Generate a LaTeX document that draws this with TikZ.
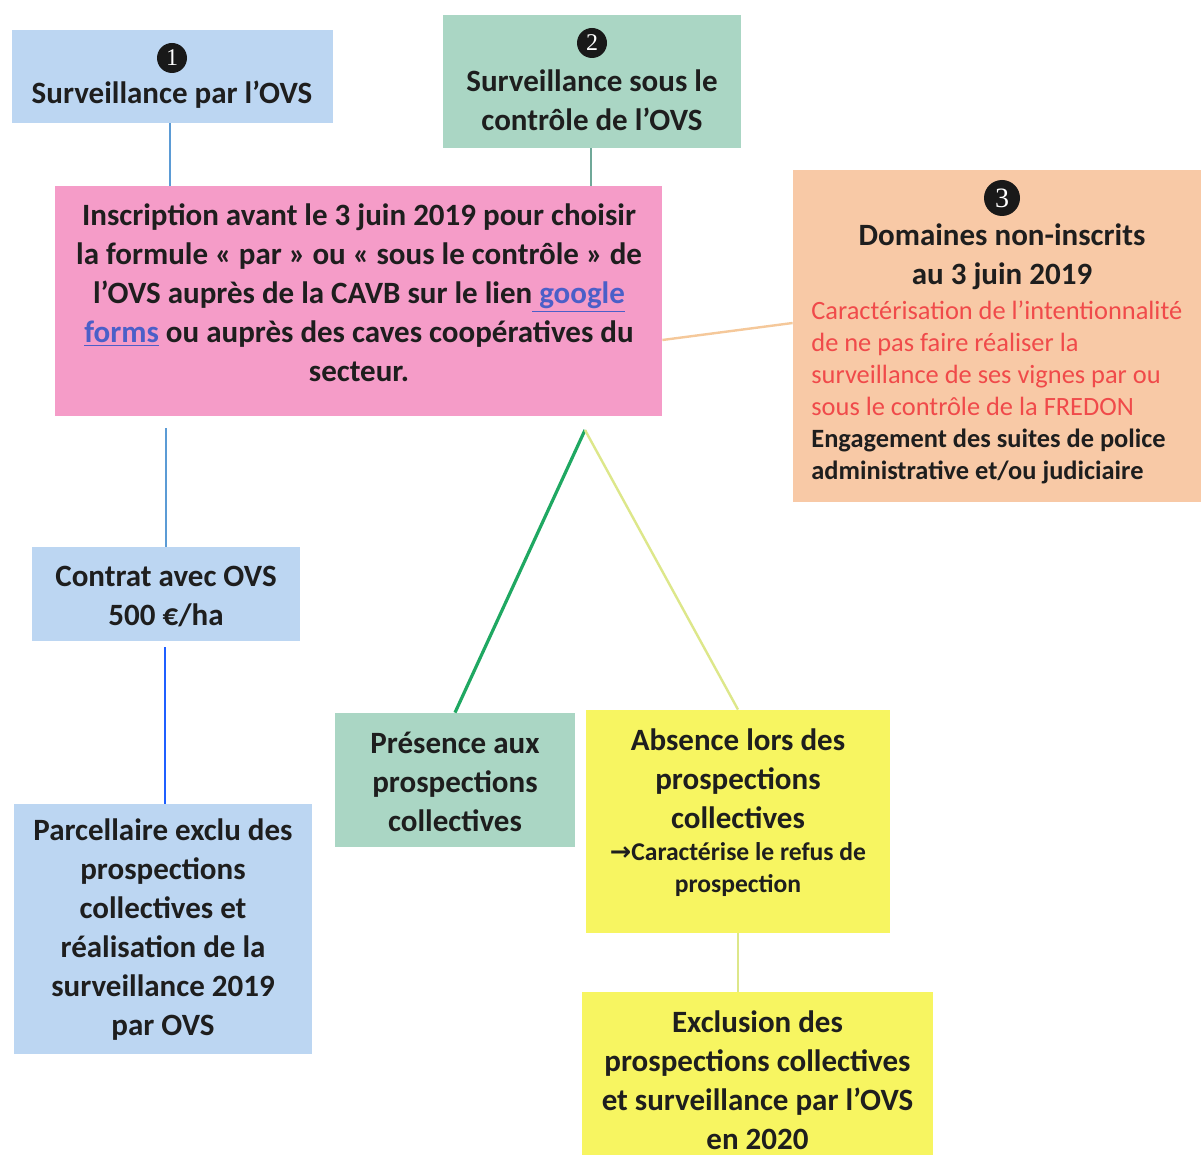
\documentclass[tikz,border=0pt]{standalone}
\usepackage{fontspec}
\setmainfont{Carlito}
\newfontfamily\digitfont{Liberation Serif}
\newfontfamily\arrowfont{DejaVu Sans}
\usetikzlibrary{fit}
\definecolor{cblue}{HTML}{BCD6F2}
\definecolor{cgreen}{HTML}{AAD6C4}
\definecolor{cpink}{HTML}{F59CC8}
\definecolor{corange}{HTML}{F8C9A6}
\definecolor{cyellow}{HTML}{F7F561}
\definecolor{cred}{HTML}{F04A4A}
\definecolor{lblue}{HTML}{5B9BD5}
\definecolor{lteal}{HTML}{6FA898}
\definecolor{lbright}{HTML}{1F5FFF}
\definecolor{lgreen}{HTML}{1FA862}
\definecolor{lyel}{HTML}{DDE78A}
\definecolor{lorange}{HTML}{F5C89A}
\definecolor{clink}{HTML}{4B5FC8}
\definecolor{ctext}{HTML}{1E1E1E}
\tikzset{
  box/.style={rectangle, inner sep=0pt, draw=none},
  bigtxt/.style={font=\fontsize{15.5}{19.5}\selectfont\bfseries, align=center, inner sep=0pt, text=ctext},
  smalltxt/.style={font=\fontsize{13.2}{16}\selectfont, inner sep=0pt, text=ctext},
  numcirc/.style={circle, fill=black!90, text=white, inner sep=0pt, font=\digitfont\fontsize{12}{12}\selectfont},
  conn/.style={line width=1.2pt}
}
\begin{document}
\begin{tikzpicture}[x=0.5pt, y=-0.5pt]
\useasboundingbox (0,0) rectangle (1201,1155);
\fill[white] (0,0) rectangle (1201,1155);

% boxes
\node[box, fill=cblue, fit={(12,30) (333,123)}] (b1) {};
\node[box, fill=cgreen, fit={(443,15) (741,148)}] (b2) {};
\node[box, fill=cpink, fit={(55,186) (662,416)}] (pink) {};
\node[box, fill=corange, fit={(793,170) (1201,502)}] (orange) {};
\node[box, fill=cblue, fit={(32,547) (300,641)}] (contrat) {};
\node[box, fill=cblue, fit={(14,804) (312,1054)}] (parc) {};
\node[box, fill=cgreen, fit={(335,713) (575,847)}] (pres) {};
\node[box, fill=cyellow, fit={(586,710) (890,933)}] (abs) {};
\node[box, fill=cyellow, fit={(582,992) (933,1155)}] (excl) {};

% number circles
\node[numcirc, minimum size=15pt] (n1) at (172,58) {1};
\node[numcirc, minimum size=15pt] (n2) at (592,43) {2};
\node[numcirc, minimum size=18pt, font=\digitfont\fontsize{14}{14}\selectfont] (n3) at (1002,198) {3};

% texts
\node[bigtxt] (t1) at (172,95) {Surveillance par l’OVS};
\node[bigtxt] (t2) at (592,100.5) {Surveillance sous le\\contrôle de l’OVS};
\node[bigtxt] (tpink) at (359,293) {Inscription avant le 3 juin 2019 pour choisir\\
la formule « par » ou « sous le contrôle » de\\
l’OVS auprès de la CAVB sur le lien\textcolor{clink}{\underline{\ google}}\\
\textcolor{clink}{\underline{forms}} ou auprès des caves coopératives du\\
secteur.};
\node[bigtxt] (t3) at (1002,256.5) {Domaines non-inscrits\\au 3 juin 2019};
\node[smalltxt, anchor=west, align=left] (t3b) at (811,392) {\textcolor{cred}{Caractérisation de l’intentionnalité}\\
\textcolor{cred}{de ne pas faire réaliser la}\\
\textcolor{cred}{surveillance de ses vignes par ou}\\
\textcolor{cred}{sous le contrôle de la FREDON}\\
\textbf{Engagement des suites de police}\\
\textbf{administrative et/ou judiciaire}};
\node[bigtxt] (tcontrat) at (166,596.5) {Contrat avec OVS\\500 €/ha};
\node[bigtxt] (tparc) at (163,929.5) {Parcellaire exclu des\\prospections\\collectives et\\réalisation de la\\surveillance 2019\\par OVS};
\node[bigtxt] (tpres) at (455,782) {Présence aux\\prospections\\collectives};
\node[bigtxt] (tabs) at (738,779) {Absence lors des\\prospections\\collectives};
\node[smalltxt, align=center, font=\fontsize{12.8}{16}\selectfont\bfseries] (tabs2) at (738,869.5) {{\arrowfont\bfseries →}Caractérise le refus de\\prospection};
\node[bigtxt] (texcl) at (757.5,1080.5) {Exclusion des\\prospections collectives\\et surveillance par l’OVS\\en 2020};

% connectors
\coordinate (split) at (585,430);
\draw[conn, lblue] (b1.south -| 170,0) -- (pink.north -| 170,0);
\draw[conn, lteal] (b2.south -| 591,0) -- (pink.north -| 591,0);
\draw[conn, lblue, shorten <=6pt] (pink.south -| contrat.north) -- (contrat.north);
\draw[conn, lbright, shorten <=3pt] (contrat.south -| 165,0) -- (parc.north -| 165,0);
\draw[conn, lorange] (pink.east |- 0,340) -- (orange.west |- 0,323);
\draw[line width=1.6pt, lgreen] (split) -- (pres.north);
\draw[conn, lyel] (split) -- (abs.north);
\draw[conn, lyel] (abs.south) -- (abs.south |- excl.north);
\end{tikzpicture}
\end{document}
